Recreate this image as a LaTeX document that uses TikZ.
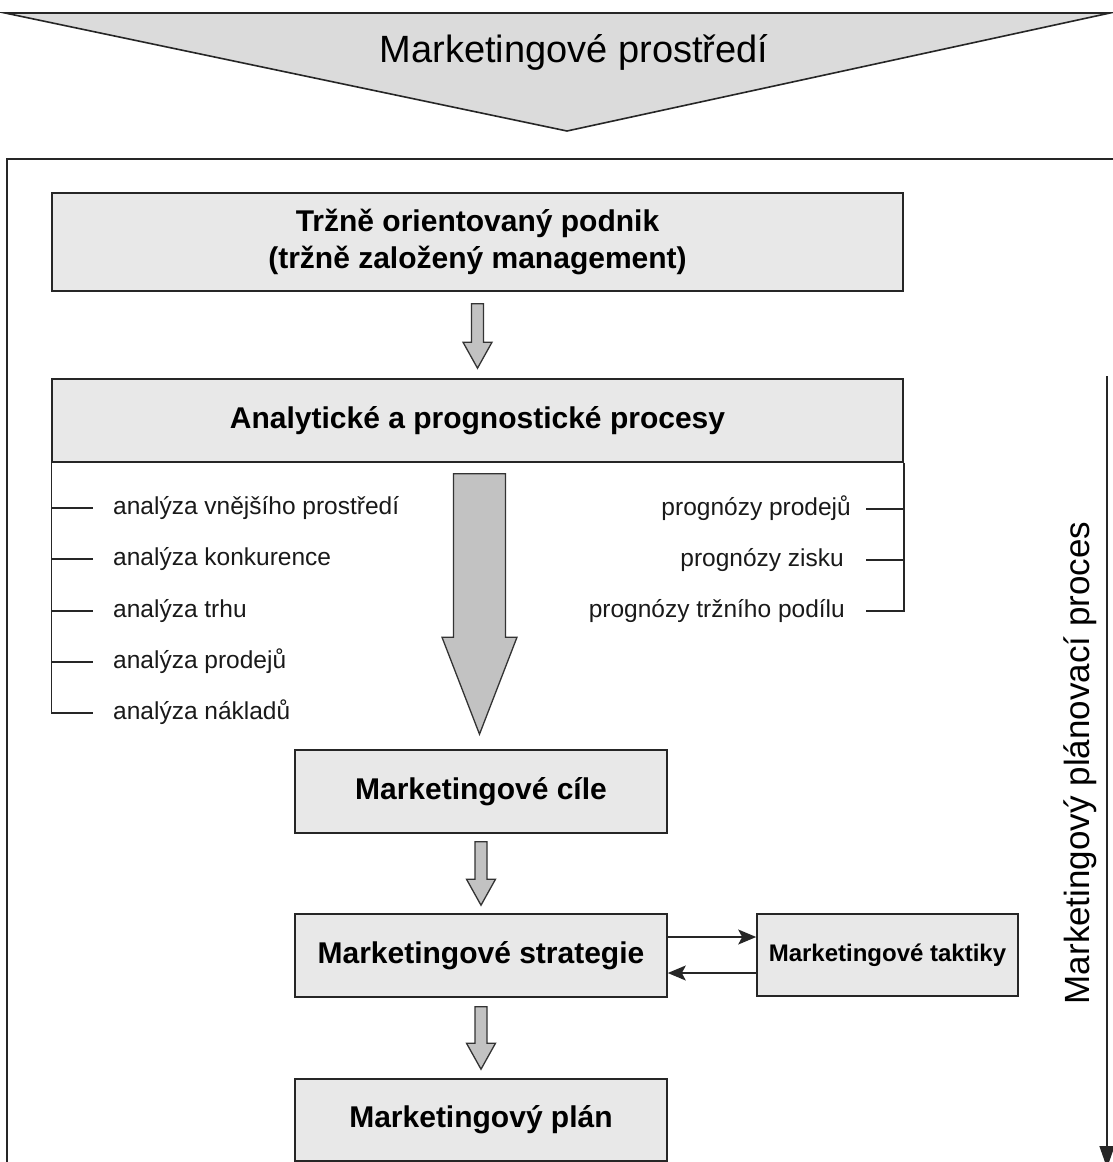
\documentclass[tikz,border=0pt]{standalone}
\usepackage{fontspec}
\setmainfont{Liberation Sans}
\usetikzlibrary{calc,arrows.meta}
\tikzset{
  box/.style={draw=black!85, line width=1.6pt, fill=black!9, inner sep=0pt,
    font=\bfseries\fontsize{30}{37}\selectfont, align=center},
  item/.style={inner sep=0pt, font=\fontsize{24.5}{28}\selectfont, text=black!90},
  blockarr/.style={draw=black!80, line width=1.3pt, fill=black!24, line join=miter},
  thinline/.style={draw=black!85, line width=1.4pt},
  funnel/.style={draw=black!85, line width=1.6pt, fill=black!14, line join=miter},
  tip/.style={-{Stealth[length=18pt,width=15pt,inset=4pt]}},
}
\newcommand{\blockarrow}[5]{%
  \draw[blockarr] let \p1=(#1), \p2=(#2) in
    (\x1-#3,\y1) -- (\x1+#3,\y1) -- (\x1+#3,\y2+#5) -- (\x1+#4,\y2+#5) --
    (\x1,\y2) -- (\x1-#4,\y2+#5) -- (\x1-#3,\y2+#5) -- cycle;}
\begin{document}
\begin{tikzpicture}[x=1pt,y=-1pt]
\clip (0,0) rectangle (1113,1162);
\fill[white] (0,0) rectangle (1113,1162);

% environment funnel
\coordinate (tl) at (5,13);
\coordinate (tr) at (1110,13);
\coordinate (tapex) at (567,131);
\draw[funnel] (tl) -- (tr) -- (tapex) -- cycle;
\node[font=\fontsize{38}{44}\selectfont, anchor=base, inner sep=0pt] (title) at (574,62) {Marketingové prostředí};

% outer frame
\draw[thinline] (7,159) rectangle (1140,1190);

% boxes
\node[box, minimum width=851pt, minimum height=98pt] (b1) at (477.5,242) {Tržně orientovaný podnik\\(tržně založený management)};
\node[box, minimum width=851pt, minimum height=83pt] (b2) at (477.5,420.5) {Analytické a prognostické procesy};
\node[box, minimum width=372pt, minimum height=83pt] (b3) at (481,791.5) {Marketingové cíle};
\node[box, minimum width=372pt, minimum height=83pt] (b4) at (481,955.5) {Marketingové strategie};
\node[box, minimum width=261pt, minimum height=82pt, font=\bfseries\fontsize{24}{28}\selectfont] (b5) at (887.5,955) {Marketingové taktiky};
\node[box, minimum width=372pt, minimum height=82pt] (b6) at (481,1120) {Marketingový plán};

% block arrows
\blockarrow{$(b1.south)+(0,12)$}{$(b2.north)+(0,-10)$}{6pt}{14.5pt}{26pt}
\blockarrow{$(b2.south)+(2,11)$}{$(b3.north)+(-1,-15)$}{26pt}{37.5pt}{97pt}
\blockarrow{$(b3.south)+(0,8)$}{$(b4.north)+(0,-8)$}{6pt}{14.5pt}{26pt}
\blockarrow{$(b4.south)+(0,9)$}{$(b6.north)+(0,-9)$}{6pt}{14.5pt}{26pt}

% left list
\coordinate (lt1) at (93,508);
\coordinate (lt2) at (93,559);
\coordinate (lt3) at (93,611);
\coordinate (lt4) at (93,662);
\coordinate (lt5) at (93,713);
\node[item, anchor=base west] (l1) at ($(lt1)+(20,6.5)$) {analýza vnějšího prostředí};
\node[item, anchor=base west] (l2) at ($(lt2)+(20,6.5)$) {analýza konkurence};
\node[item, anchor=base west] (l3) at ($(lt3)+(20,6.5)$) {analýza trhu};
\node[item, anchor=base west] (l4) at ($(lt4)+(20,6.5)$) {analýza prodejů};
\node[item, anchor=base west] (l5) at ($(lt5)+(20,6.5)$) {analýza nákladů};
\draw[thinline] (b2.south west) -- (b2.south west |- lt5) -- (lt5);
\draw[thinline] (b2.south west |- lt1) -- (lt1);
\draw[thinline] (b2.south west |- lt2) -- (lt2);
\draw[thinline] (b2.south west |- lt3) -- (lt3);
\draw[thinline] (b2.south west |- lt4) -- (lt4);

% right list
\coordinate (rt1) at (866,509);
\coordinate (rt2) at (866,560);
\coordinate (rt3) at (866,611);
\node[item, anchor=base east] (r1) at ($(rt1)+(-15,6.5)$) {prognózy prodejů};
\node[item, anchor=base east] (r2) at ($(rt2)+(-22,6.5)$) {prognózy zisku};
\node[item, anchor=base east] (r3) at ($(rt3)+(-21,6.5)$) {prognózy tržního podílu};
\draw[thinline] (b2.south east) -- (b2.south east |- rt3) -- (rt3);
\draw[thinline] (b2.south east |- rt1) -- (rt1);
\draw[thinline] (b2.south east |- rt2) -- (rt2);

% strategy <-> tactics
\draw[thinline, tip] (b4.east |- 0,937) -- (b5.west |- 0,937);
\draw[thinline, tip] (b5.west |- 0,973) -- (b4.east |- 0,973);

% planning process arrow
\coordinate (stop) at (1107,376);
\coordinate (sbot) at (1107,1168);
\draw[thinline, -{Triangle[length=22pt,width=15pt]}] (stop) -- (sbot);
\node[font=\fontsize{35}{40}\selectfont, rotate=90, anchor=base, inner sep=0pt] (side) at (1089,763) {Marketingový plánovací proces};
\end{tikzpicture}
\end{document}
